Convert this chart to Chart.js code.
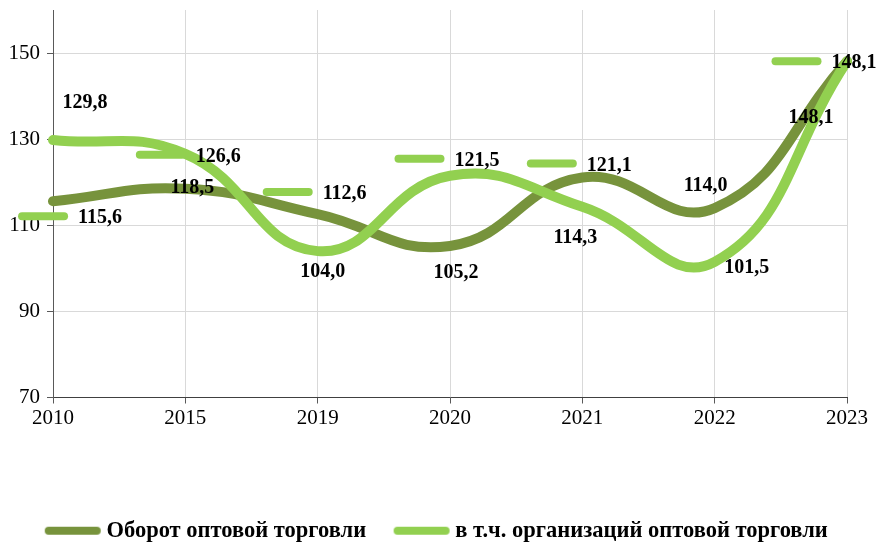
<!DOCTYPE html>
<html>
<head>
<meta charset="utf-8">
<script src="https://cdn.jsdelivr.net/npm/chart.js@4"></script>
<style>
  html, body { margin: 0; padding: 0; background: #fff; }
  #wrap { width: 878px; height: 543px; }
</style>
</head>
<body>
<div id="wrap"><canvas id="chart" width="878" height="543"></canvas></div>
<script>
// categories and series
var YEARS = ["2010", "2015", "2019", "2020", "2021", "2022", "2023"];
var TOTAL = [115.6, 118.5, 112.6, 105.2, 121.1, 114.0, 148.1];   // Оборот оптовой торговли
var ORGS = [129.8, 126.6, 104.0, 121.5, 114.3, 101.5, 148.1];    // в т.ч. организаций
var Y_TICKS = [70, 90, 110, 130, 150];

// label offsets from each point (px), and which labels carry a legend key dash
var TOTAL_DX = [47, 7, 27, 6, 27, -9, -36];
var TOTAL_DY = [17, -1, -20, 27, -12, -22, 57];
var TOTAL_KEY = [true, false, true, false, true, false, false];
var ORGS_DX = [32, 33, 5, 27, -7, 32, 7];
var ORGS_DY = [-37, 3, 21, -15, 31, 6, 2];
var ORGS_KEY = [false, true, false, true, false, false, true];

const DARK = "#77933c";
const LIGHT = "#92d050";
const SERIF = "'Liberation Serif', 'Times New Roman', serif";

// rounded line used as legend marker
function makeKey(color) {
    var c = document.createElement("canvas");
    c.width = 58;
    c.height = 10;
    var g = c.getContext("2d");
    g.strokeStyle = color;
    g.lineWidth = 8;
    g.lineCap = "round";
    g.beginPath();
    g.moveTo(5, 5);
    g.lineTo(53, 5);
    g.stroke();
    return c;
}

var labelPlugin = {
    id: "valueLabels",
    afterLayout: function (chart) {
        // legend sits lower and spans the whole width in the original
        var lg = chart.legend;
        lg.top += 9;
        lg.bottom += 9;
        lg.right = chart.width;
    },
    afterDatasetsDraw: function (chart) {
        var ctx = chart.ctx;
        var sets = [
            { idx: 0, vals: TOTAL, dx: TOTAL_DX, dy: TOTAL_DY, key: TOTAL_KEY },
            { idx: 1, vals: ORGS, dx: ORGS_DX, dy: ORGS_DY, key: ORGS_KEY }
        ];
        ctx.save();
        ctx.font = "bold 20px " + SERIF;
        ctx.textAlign = "center";
        ctx.textBaseline = "middle";
        sets.forEach(function (s) {
            var meta = chart.getDatasetMeta(s.idx);
            meta.data.forEach(function (pt, i) {
                var txt = s.vals[i].toFixed(1).replace(".", ",");
                var cx = pt.x + s.dx[i];
                var cy = pt.y + s.dy[i];
                var w = ctx.measureText(txt).width;
                if (s.key[i]) {
                    var right = cx - w / 2 - 14;
                    ctx.beginPath();
                    ctx.strokeStyle = LIGHT;
                    ctx.lineWidth = 8;
                    ctx.lineCap = "round";
                    ctx.moveTo(right - 42, cy - 2);
                    ctx.lineTo(right, cy - 2);
                    ctx.stroke();
                }
                ctx.fillStyle = "#000";
                ctx.fillText(txt, cx, cy);
            });
        });
        ctx.restore();
    }
};

var chart = new Chart(document.getElementById("chart"), {
    type: "line",
    data: {
        labels: YEARS,
        datasets: [
            {
                label: "Оборот оптовой торговли",
                data: TOTAL,
                borderColor: DARK,
                backgroundColor: DARK,
                borderWidth: 10,
                borderCapStyle: "round",
                borderJoinStyle: "round",
                pointRadius: 0,
                pointStyle: makeKey(DARK),
                tension: 0.45,
                order: 2
            },
            {
                label: "в т.ч. организаций оптовой торговли",
                data: ORGS,
                borderColor: LIGHT,
                backgroundColor: LIGHT,
                borderWidth: 10,
                borderCapStyle: "round",
                borderJoinStyle: "round",
                pointRadius: 0,
                pointStyle: makeKey(LIGHT),
                tension: 0.45,
                order: 1
            }
        ]
    },
    options: {
        responsive: false,
        animation: false,
        layout: { padding: { top: 10, right: 31, left: 0, bottom: 0 } },
        plugins: {
            tooltip: { enabled: false },
            legend: {
                position: "bottom",
                labels: {
                    usePointStyle: true,
                    pointStyleWidth: 45,
                    padding: 33,
                    color: "#000",
                    font: { family: SERIF, size: 22.5, weight: "bold" },
                    sort: function (a, b) { return a.datasetIndex - b.datasetIndex; }
                }
            }
        },
        scales: {
            x: {
                offset: false,
                grid: { color: "#d9d9d9", lineWidth: 1, tickLength: 6, tickColor: "#595959" },
                border: { color: "#404040", width: 1 },
                ticks: { color: "#000", font: { family: SERIF, size: 21 }, padding: 2, maxRotation: 0 },
                afterFit: function (scale) { scale.height = 80; }
            },
            y: {
                min: 70,
                max: 160,
                grid: { color: "#d9d9d9", lineWidth: 1, tickLength: 6, tickColor: "#595959" },
                border: { color: "#595959", width: 1 },
                ticks: { color: "#000", font: { family: SERIF, size: 21 }, padding: 7 },
                afterBuildTicks: function (scale) {
                    scale.ticks = Y_TICKS.map(function (v) { return { value: v }; });
                },
                afterFit: function (scale) {
                    scale.width = 53;
                    scale.paddingTop = 0;
                    scale.paddingBottom = 0;
                }
            }
        }
    },
    plugins: [labelPlugin]
});
</script>
</body>
</html>
